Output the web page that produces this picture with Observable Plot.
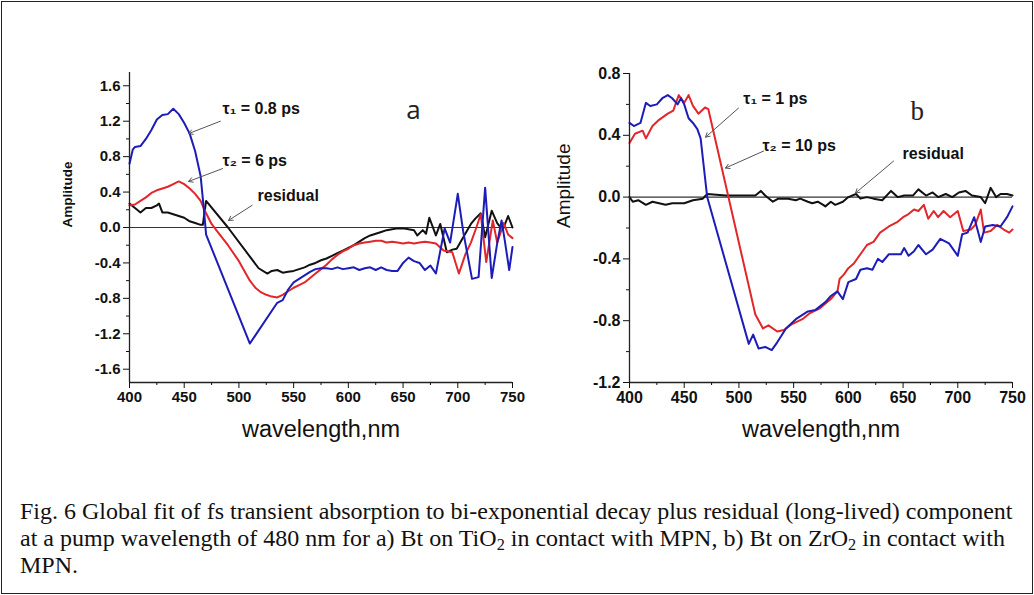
<!DOCTYPE html>
<html>
<head>
<meta charset="utf-8">
<script src="https://cdn.jsdelivr.net/npm/d3@7"></script>
<script src="https://cdn.jsdelivr.net/npm/@observablehq/plot@0.6"></script>
<style>
  html, body { margin: 0; padding: 0; background: #fff; }
  #fig { position: relative; width: 1034px; height: 595px; overflow: hidden; background: #fff; }
  #frame { position: absolute; left: 1px; top: 1px; width: 1030px; height: 591px; border: 1px solid #222; box-sizing: content-box; }
  #caption { position: absolute; left: 20px; top: 498px; font-family: "Liberation Serif", "Times New Roman", serif; font-size: 24px; line-height: 27px; color: #111; white-space: nowrap; }
  #caption sub { font-size: 68%; vertical-align: -0.25em; line-height: 0; }
  svg { position: absolute; }
</style>
</head>
<body>
<div id="fig">
  <div id="frame"></div>
  <div id="caption">Fig. 6 Global fit of fs transient absorption to bi-exponential decay plus residual (long-lived) component<br>at a pump wavelength of 480 nm for a) Bt on TiO<sub>2</sub> in contact with MPN, b) Bt on ZrO<sub>2</sub> in contact with<br>MPN.</div>
</div>
<script>
// ---------- Panel a (Bt on TiO2) ----------
const aBlueNm = [400,403,405,410,415,420,425,430,435,440,445,450,455,460,465,468,470,510,535,540,545,550,555,560,565,570,575,580,585,590,595,600,605,610,615,620,625,630,635,640,645,650,655,660,665,670,675,680,688,693,700,705,713,719,725,731,736,740,743,747,750];
const aBlueAmp = [0.72,0.88,0.91,0.92,1.00,1.10,1.22,1.27,1.28,1.34,1.28,1.18,1.06,0.86,0.58,0.20,-0.08,-1.31,-0.85,-0.82,-0.70,-0.62,-0.58,-0.54,-0.50,-0.47,-0.46,-0.46,-0.47,-0.45,-0.47,-0.46,-0.45,-0.48,-0.46,-0.45,-0.48,-0.45,-0.48,-0.49,-0.49,-0.40,-0.34,-0.38,-0.40,-0.48,-0.43,-0.52,-0.01,-0.17,0.38,-0.05,-0.58,-0.56,0.45,-0.57,-0.18,0.08,-0.15,-0.48,-0.22];

const aRedNm = [400,405,410,415,420,425,430,435,440,445,450,455,460,465,470,475,480,490,500,510,515,520,525,530,535,540,545,550,555,560,565,570,575,580,585,590,595,600,605,610,615,620,625,630,635,640,645,650,655,660,665,670,675,680,687,695,701,707,712,717,721,726,732,736,742,746,750];
const aRedAmp = [0.25,0.26,0.30,0.34,0.39,0.42,0.44,0.46,0.49,0.52,0.49,0.44,0.38,0.30,0.16,0.04,-0.04,-0.20,-0.38,-0.60,-0.68,-0.73,-0.76,-0.78,-0.79,-0.76,-0.72,-0.68,-0.65,-0.62,-0.57,-0.52,-0.47,-0.42,-0.36,-0.31,-0.27,-0.24,-0.20,-0.18,-0.17,-0.16,-0.15,-0.15,-0.17,-0.16,-0.17,-0.18,-0.17,-0.18,-0.17,-0.16,-0.17,-0.18,-0.26,-0.28,-0.52,-0.30,-0.17,0.0,0.15,-0.39,0.08,-0.17,0.05,-0.08,-0.12];

const aBlackNm = [400,403,407,410,415,420,425,427,430,435,440,445,450,455,460,465,467,470,490,518,526,530,535,540,545,550,555,560,565,570,575,580,585,590,595,600,605,610,615,620,625,630,635,640,645,650,655,660,663,668,671,674,680,684,690,695,699,705,712,716,721,725,731,736,741,746,750];
const aBlackAmp = [0.27,0.24,0.20,0.17,0.22,0.22,0.25,0.27,0.17,0.17,0.15,0.13,0.11,0.07,0.05,0.03,0.03,0.30,0.00,-0.46,-0.52,-0.49,-0.48,-0.51,-0.50,-0.49,-0.47,-0.45,-0.42,-0.40,-0.37,-0.35,-0.32,-0.29,-0.26,-0.23,-0.20,-0.16,-0.12,-0.09,-0.07,-0.05,-0.03,-0.02,-0.01,-0.01,-0.02,-0.03,-0.09,-0.03,-0.07,0.11,-0.09,0.04,-0.28,-0.25,-0.24,-0.11,0.04,0.10,0.16,-0.11,0.19,0.05,-0.03,0.13,0.0];

// ---------- Panel b (Bt on ZrO2) ----------
const bBlueNm = [400,404,410,415,419,425,430,435,439,444,447,450,454,458,462,465,468,471,509,513,518,524,530,535,543,552,563,570,579,584,590,595,600,607,611,617,622,627,631,637,648,651,655,660,664,671,677,684,692,700,704,709,715,721,725,732,739,745,750];
const bBlueAmp = [0.48,0.46,0.48,0.61,0.59,0.60,0.64,0.66,0.64,0.60,0.64,0.60,0.51,0.48,0.44,0.38,0.19,0.00,-0.95,-0.89,-0.98,-0.97,-0.99,-0.94,-0.85,-0.79,-0.74,-0.73,-0.68,-0.64,-0.61,-0.66,-0.55,-0.53,-0.47,-0.46,-0.47,-0.40,-0.42,-0.37,-0.37,-0.33,-0.38,-0.35,-0.31,-0.37,-0.34,-0.27,-0.30,-0.38,-0.24,-0.23,-0.13,-0.29,-0.19,-0.18,-0.19,-0.13,-0.06];

const bRedNm = [400,405,412,415,421,427,435,440,445,450,454,458,463,469,472,515,522,527,535,541,549,558,565,574,584,590,592,596,600,605,611,617,623,629,637,645,650,655,660,664,669,673,678,682,687,693,700,705,712,716,721,724,730,736,742,747,750];
const bRedAmp = [0.35,0.41,0.43,0.38,0.46,0.50,0.54,0.56,0.66,0.61,0.66,0.59,0.54,0.58,0.57,-0.76,-0.85,-0.83,-0.87,-0.86,-0.82,-0.79,-0.75,-0.72,-0.66,-0.61,-0.53,-0.50,-0.46,-0.43,-0.37,-0.31,-0.29,-0.23,-0.19,-0.16,-0.13,-0.11,-0.08,-0.09,-0.05,-0.14,-0.09,-0.13,-0.09,-0.13,-0.09,-0.22,-0.21,-0.18,-0.08,-0.23,-0.22,-0.18,-0.21,-0.23,-0.21];

const bBlackNm = [400,403,408,415,421,427,433,439,450,458,467,471,488,509,515,520,524,531,536,545,552,556,563,567,572,577,579,584,588,595,600,607,611,617,623,631,639,645,651,659,664,671,677,682,689,695,701,707,713,721,725,730,735,739,745,750];
const bBlackAmp = [0.00,-0.03,-0.02,-0.05,-0.03,-0.04,-0.05,-0.04,-0.04,-0.02,-0.01,0.02,0.01,0.01,0.01,0.04,0.01,-0.03,-0.01,-0.01,-0.02,-0.01,-0.03,-0.04,-0.03,-0.05,-0.06,-0.03,-0.05,-0.03,0.00,0.02,-0.01,0.00,-0.01,-0.02,0.04,0.00,0.01,0.01,0.05,0.01,0.03,0.00,0.02,0.00,0.03,0.04,0.01,0.00,-0.04,0.06,0.00,0.02,0.02,0.01];

// ---------- Axis ticks ----------
const xTicks = [400,450,500,550,600,650,700,750];
const xMinorTicks = [425,475,525,575,625,675,725];
const aYTicks = [-1.6,-1.2,-0.8,-0.4,0.0,0.4,0.8,1.2,1.6];
const aYMinorTicks = [-1.4,-1.0,-0.6,-0.2,0.2,0.6,1.0,1.4];
const bYTicks = [-1.2,-0.8,-0.4,0.0,0.4,0.8];
const bYMinorTicks = [-1.0,-0.6,-0.2,0.2,0.6];

// ---------- Annotations (data coordinates) ----------
const aLabels = [
  {text: "τ₁ = 0.8 ps", nm: 485, amp: 1.34, fromNm: 483, fromAmp: 1.20, toNm: 454, toAmp: 1.06},
  {text: "τ₂ = 6 ps", nm: 485, amp: 0.755, fromNm: 485, fromAmp: 0.665, toNm: 454, toAmp: 0.52},
  {text: "residual", nm: 517, amp: 0.36, fromNm: 512, fromAmp: 0.25, toNm: 490.5, toAmp: 0.08}
];
const bLabels = [
  {text: "τ₁ = 1 ps", nm: 504, amp: 0.634, fromNm: 499.6, fromAmp: 0.576, toNm: 469.5, toAmp: 0.388},
  {text: "τ₂ = 10 ps", nm: 521.5, amp: 0.33, fromNm: 522.5, fromAmp: 0.298, toNm: 487.7, toAmp: 0.188},
  {text: "residual", nm: 649.5, amp: 0.278, fromNm: 641.3, fromAmp: 0.233, toNm: 606.5, toAmp: 0.026}
];

const zip = (nm, amp) => nm.map((d, i) => ({nm: d, amp: amp[i]}));
const BLUE = "#1c1cb8", RED = "#e2262a", BLACK = "#111";

function panel(cfg) {
  const fmt = d => d.toFixed(1);
  const svg = Plot.plot({
    width: cfg.width, height: 470,
    marginLeft: cfg.ml, marginRight: cfg.mr, marginTop: cfg.mt, marginBottom: cfg.mb,
    style: {overflow: "visible", background: "transparent", fontFamily: "'Liberation Sans', Arial, sans-serif", color: "#111"},
    x: {domain: [400, 750]},
    y: {domain: cfg.yDomain},
    marks: [
      Plot.ruleY([0], {stroke: "#333", strokeWidth: 1.2}),
      Plot.line(zip(cfg.blackNm, cfg.blackAmp), {x: "nm", y: "amp", stroke: BLACK, strokeWidth: 2}),
      Plot.line(zip(cfg.redNm, cfg.redAmp), {x: "nm", y: "amp", stroke: RED, strokeWidth: 2}),
      Plot.line(zip(cfg.blueNm, cfg.blueAmp), {x: "nm", y: "amp", stroke: BLUE, strokeWidth: 2}),
      Plot.ruleX([400], {stroke: "#222", strokeWidth: 1.3}),
      Plot.ruleY([cfg.yDomain[0]], {stroke: "#222", strokeWidth: 1.3}),
      Plot.axisY({ticks: cfg.yTicks, tickSize: 6, tickPadding: 3, tickFormat: fmt, fontSize: cfg.tickFont, fontWeight: "bold", label: null}),
      Plot.axisY({ticks: cfg.yMinor, tickSize: 3, tickFormat: () => "", label: null}),
      Plot.axisX({ticks: xTicks, tickSize: 6, tickPadding: 3, tickFormat: d => String(d), fontSize: cfg.tickFont, fontWeight: "bold", label: null}),
      Plot.axisX({ticks: xMinorTicks, tickSize: 3, tickFormat: () => "", label: null}),
      Plot.arrow(cfg.labels, {x1: "fromNm", y1: "fromAmp", x2: "toNm", y2: "toAmp", stroke: "#555", strokeWidth: 1, headLength: 7}),
      Plot.text(cfg.labels, {x: "nm", y: "amp", text: "text", textAnchor: "start", fontSize: 16, fontWeight: "bold", fill: "#111"}),
      Plot.text([cfg.letter], {x: cfg.letterPos[0], y: cfg.letterPos[1], text: d => d, fontSize: cfg.letterFont, fontFamily: cfg.letterFamily, fill: "#222"}),
      Plot.text(["Amplitude"], {frameAnchor: "left", text: d => d, rotate: -90, dx: cfg.yLabelDx, fontSize: cfg.yLabelFont, fontWeight: cfg.yLabelWeight, fill: "#111"}),
      Plot.text(["wavelength,nm"], {frameAnchor: "bottom", text: d => d, dy: 54, fontSize: 23.5, fill: "#111"})
    ]
  });
  svg.style.left = cfg.left + "px";
  svg.style.top = "0px";
  return svg;
}

const fig = document.getElementById("fig");
fig.appendChild(panel({
  left: 0, width: 530, ml: 129, mr: 18, mt: 72, mb: 88,
  yDomain: [-1.75, 1.75], yTicks: aYTicks, yMinor: aYMinorTicks, tickFont: 15,
  blueNm: aBlueNm, blueAmp: aBlueAmp, redNm: aRedNm, redAmp: aRedAmp, blackNm: aBlackNm, blackAmp: aBlackAmp,
  labels: aLabels, letter: "a", letterPos: [659.5, 1.32], letterFont: 26, letterFamily: "'Open Sans', 'DejaVu Sans', sans-serif",
  yLabelDx: -62, yLabelFont: 13.5, yLabelWeight: "bold"
}));
fig.appendChild(panel({
  left: 520, width: 514, ml: 109, mr: 22, mt: 73, mb: 88,
  yDomain: [-1.2, 0.8], yTicks: bYTicks, yMinor: bYMinorTicks, tickFont: 16,
  blueNm: bBlueNm, blueAmp: bBlueAmp, redNm: bRedNm, redAmp: bRedAmp, blackNm: bBlackNm, blackAmp: bBlackAmp,
  labels: bLabels, letter: "b", letterPos: [663, 0.557], letterFont: 27, letterFamily: "'Liberation Serif', 'Times New Roman', serif",
  yLabelDx: -66, yLabelFont: 19, yLabelWeight: "normal"
}));
</script>
</body>
</html>
